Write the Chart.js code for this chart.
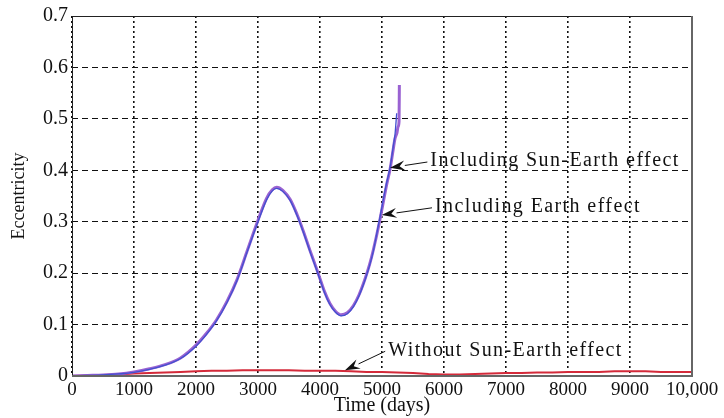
<!DOCTYPE html>
<html>
<head>
<meta charset="utf-8">
<script src="https://cdn.jsdelivr.net/npm/chart.js@4"></script>
<style>
  html, body { margin: 0; padding: 0; background: #fff; }
  #eccChart { display: block; }
</style>
</head>
<body>
<canvas id="eccChart" width="724" height="418"></canvas>
<script>

  // ---- data ----
  const xTickLabels = ['0', '1000', '2000', '3000', '4000', '5000', '6000', '7000', '8000', '9000', '10,000'];
  const yTickLabels = ['0', '0.1', '0.2', '0.3', '0.4', '0.5', '0.6', '0.7'];

  // Including Sun-Earth effect
  const sunEarthDays = [0, 250, 500, 750, 1000, 1250, 1500, 1750, 2000, 2170, 2330, 2500, 2660, 2830, 3000, 3140, 3230, 3300, 3400, 3520, 3630, 3730, 3850, 3970, 4070, 4160, 4250, 4340, 4440, 4540, 4630, 4730, 4800, 4860, 4960, 5080, 5130, 5180, 5210, 5240, 5260, 5275, 5280];
  const sunEarthEcc  = [0, 0.001, 0.002, 0.004, 0.008, 0.014, 0.022, 0.035, 0.060, 0.083, 0.109, 0.145, 0.187, 0.245, 0.303, 0.346, 0.362, 0.367, 0.361, 0.343, 0.314, 0.282, 0.240, 0.200, 0.165, 0.141, 0.126, 0.119, 0.123, 0.137, 0.158, 0.190, 0.217, 0.245, 0.300, 0.375, 0.402, 0.440, 0.462, 0.472, 0.485, 0.495, 0.566];

  // Including Earth effect
  const earthDays = [0, 250, 500, 750, 1000, 1250, 1500, 1750, 2000, 2170, 2330, 2500, 2660, 2830, 3000, 3140, 3230, 3300, 3400, 3520, 3630, 3730, 3850, 3970, 4070, 4160, 4250, 4340, 4440, 4540, 4630, 4730, 4800, 4860, 4950, 5070, 5130, 5180, 5210, 5237];
  const earthEcc  = [0, 0.001, 0.002, 0.004, 0.007, 0.013, 0.021, 0.034, 0.058, 0.081, 0.107, 0.143, 0.185, 0.243, 0.300, 0.343, 0.360, 0.365, 0.359, 0.341, 0.312, 0.280, 0.238, 0.198, 0.163, 0.139, 0.124, 0.117, 0.121, 0.135, 0.156, 0.188, 0.215, 0.243, 0.298, 0.373, 0.405, 0.445, 0.470, 0.511];

  // Without Sun-Earth effect
  const withoutDays = [0, 250, 500, 750, 1000, 1250, 1500, 1750, 2000, 2250, 2500, 2750, 3000, 3250, 3500, 3750, 4000, 4250, 4500, 4750, 5000, 5250, 5500, 5750, 6000, 6250, 6500, 6750, 7000, 7250, 7500, 7750, 8000, 8250, 8500, 8750, 9000, 9250, 9500, 9750, 10000];
  const withoutEcc  = [0, 0.001, 0.002, 0.003, 0.005, 0.006, 0.007, 0.008, 0.009, 0.010, 0.010, 0.011, 0.011, 0.011, 0.011, 0.010, 0.010, 0.010, 0.009, 0.008, 0.008, 0.007, 0.006, 0.004, 0.003, 0.003, 0.004, 0.005, 0.006, 0.006, 0.007, 0.007, 0.008, 0.008, 0.008, 0.009, 0.009, 0.009, 0.008, 0.008, 0.008];

  // annotation labels: text anchor and arrow tip, in data units
  const noteTexts  = ['Including Sun-Earth effect', 'Including Earth effect', 'Without Sun-Earth effect'];
  const noteTextAt = [[5780, 0.418], [5855, 0.329], [5100, 0.050]];
  const noteTipAt  = [[5129, 0.405], [4995, 0.313], [4403, 0.011]];

  /**======================================================================================
   *                          helpers
   ======================================================================================*/
  function toPoints(xs, ys)
  {
      let pts = [];
      for (let i = 0; i < xs.length; i++) pts.push({x: xs[i], y: ys[i]});
      return pts;
  }

  function drawArrow(ctx, x0, y0, x1, y1)
  {
      let ang = Math.atan2(y1 - y0, x1 - x0);
      let len = 15, half = 5;
      let bx = x1 - Math.cos(ang) * len, by = y1 - Math.sin(ang) * len;
      ctx.beginPath();
      ctx.moveTo(x0, y0);
      ctx.lineTo(bx, by);
      ctx.lineWidth = 1;
      ctx.strokeStyle = '#111';
      ctx.stroke();
      ctx.beginPath();
      ctx.moveTo(x1, y1);
      ctx.lineTo(bx - Math.sin(ang) * half, by + Math.cos(ang) * half);
      ctx.lineTo(x1 - Math.cos(ang) * len * 0.65, y1 - Math.sin(ang) * len * 0.65);
      ctx.lineTo(bx + Math.sin(ang) * half, by - Math.cos(ang) * half);
      ctx.closePath();
      ctx.fillStyle = '#111';
      ctx.fill();
  }

  const paperPlugin = {
      id: 'paper',
      beforeDraw(chart)
      {
          const c = chart.ctx;
          c.save();
          c.fillStyle = '#fff';
          c.fillRect(0, 0, chart.width, chart.height);
          c.restore();
      },
      afterDraw(chart)
      {
          const c = chart.ctx;
          const a = chart.chartArea;
          const xs = chart.scales.x, ys = chart.scales.y;
          c.save();
          c.setLineDash([]);
          c.strokeStyle = '#222';
          c.lineWidth = 1;
          c.beginPath();
          c.moveTo(a.left + 0.5, a.bottom);
          c.lineTo(a.left + 0.5, a.top + 0.5);
          c.lineTo(a.right, a.top + 0.5);
          c.stroke();
          c.strokeStyle = '#666';
          c.lineWidth = 2;
          c.beginPath();
          c.moveTo(a.left, a.bottom);
          c.lineTo(a.right, a.bottom);
          c.lineTo(a.right, a.top);
          c.stroke();

          c.font = '20px "Liberation Serif", "Times New Roman", serif';
          c.letterSpacing = '1.4px';
          c.textBaseline = 'middle';
          c.textAlign = 'left';
          for (let i = 0; i < noteTexts.length; i++)
          {
              let tx = xs.getPixelForValue(noteTextAt[i][0]);
              let ty = ys.getPixelForValue(noteTextAt[i][1]);
              let px = xs.getPixelForValue(noteTipAt[i][0]);
              let py = ys.getPixelForValue(noteTipAt[i][1]);
              c.fillStyle = '#111';
              c.fillText(noteTexts[i], tx, ty);
              drawArrow(c, tx - 3, ty + 1, px, py);
          }
          c.restore();
      }
  };

  /**======================================================================================
   *                          chart
   ======================================================================================*/
  const serif = '"Liberation Serif", "Times New Roman", serif';

  // Chart.js paints dataset 0 last, so the thin blue curve goes first to stay on top
  const eccChart = new Chart(document.getElementById('eccChart'), {
      type: 'line',
      data: {
          datasets: [
            {
              label: 'Including Earth effect',
              data: toPoints(earthDays, earthEcc),
              borderColor: '#4250d0',
              borderWidth: 1.3,
              pointRadius: 0,
              cubicInterpolationMode: 'monotone'
            },
            {
              label: 'Including Sun-Earth effect',
              data: toPoints(sunEarthDays, sunEarthEcc),
              borderColor: '#9a62d2',
              borderWidth: 3,
              pointRadius: 0,
              cubicInterpolationMode: 'monotone'
            },
            {
              label: 'Without Sun-Earth effect',
              data: toPoints(withoutDays, withoutEcc),
              borderColor: '#d42a3a',
              borderWidth: 2,
              pointRadius: 0,
              tension: 0
            }
          ]
      },
      options: {
          responsive: false,
          animation: false,
          devicePixelRatio: 1,
          layout: { padding: { top: 16, right: 32, left: 0, bottom: 0 } },
          plugins: {
              legend: { display: false },
              tooltip: { enabled: false }
          },
          scales: {
              x: {
                  type: 'linear',
                  min: 0,
                  max: 10000,
                  ticks: {
                      stepSize: 1000,
                      autoSkip: false,
                      maxRotation: 0,
                      padding: 3,
                      color: '#111',
                      font: { family: serif, size: 19 },
                      callback: (v, i) => xTickLabels[i]
                  },
                  grid: { color: '#111', lineWidth: 1.6, drawTicks: false },
                  border: { display: false, dash: [2, 3] },
                  title: {
                      display: true,
                      text: 'Time (days)',
                      color: '#111',
                      font: { family: serif, size: 20 },
                      padding: { top: 0, bottom: 0 }
                  },
                  afterFit: (s) => { s.height = 42; }
              },
              y: {
                  min: 0,
                  max: 0.7,
                  ticks: {
                      stepSize: 0.1,
                      padding: 4,
                      color: '#111',
                      font: { family: serif, size: 20 },
                      callback: (v, i) => yTickLabels[i]
                  },
                  grid: { color: '#111', lineWidth: 1, drawTicks: false },
                  border: { display: false, dash: [6, 4] },
                  title: {
                      display: true,
                      text: 'Eccentricity',
                      color: '#111',
                      font: { family: serif, size: 18 },
                      padding: { top: 8, bottom: 0 }
                  },
                  afterFit: (s) => { s.width = 72; }
              }
          }
      },
      plugins: [paperPlugin]
  });

</script>
</body>
</html>
